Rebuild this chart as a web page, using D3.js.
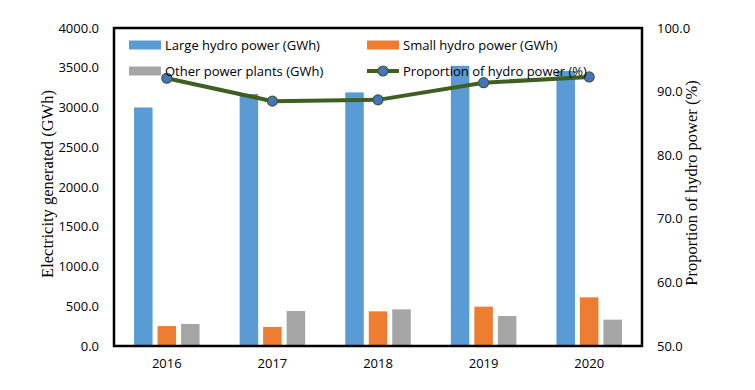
<!DOCTYPE html>
<html>
<head>
<meta charset="utf-8">
<script src="https://cdn.jsdelivr.net/npm/d3@7"></script>
<style>
  body { margin: 0; background: #fff; }
  svg text { font-family: "Open Sans", sans-serif; }
</style>
</head>
<body>
<script>
var years = ['2016', '2017', '2018', '2019', '2020'];
var largeHydro = [3000, 3170, 3190, 3525, 3460];
var smallHydro = [250, 240, 436, 495, 612];
var otherPlants = [277, 440, 461, 377, 331];
var hydroShare = [92.1, 88.5, 88.7, 91.4, 92.3];
var leftTicks = [0, 500, 1000, 1500, 2000, 2500, 3000, 3500, 4000];
var rightTicks = [50, 60, 70, 80, 90, 100];

var width = 755, height = 390;
var margin = {top: 28, right: 113, bottom: 44, left: 114};
var innerW = width - margin.left - margin.right;
var innerH = height - margin.top - margin.bottom;

var svg = d3.select('body')
    .append('svg')
    .attr('width', width)
    .attr('height', height);

var g = svg.append('g')
    .attr('transform', 'translate(' + margin.left + ',' + margin.top + ')');

var x = d3.scaleBand().domain(years).range([0, innerW]);
var y = d3.scaleLinear().domain([0, 4000]).range([innerH, 0]);
var y2 = d3.scaleLinear().domain([50, 100]).range([innerH, 0]);

var series = [
    {name: 'Large hydro power (GWh)', values: largeHydro, color: '#5B9BD5'},
    {name: 'Small hydro power (GWh)', values: smallHydro, color: '#ED7D31'},
    {name: 'Other power plants (GWh)', values: otherPlants, color: '#A5A5A5'}
];

var barW = 18.5, gap = 5;
var groupW = barW * 3 + gap * 2;

// bars
series.forEach(function (s, si) {
    g.selectAll('rect.s' + si)
        .data(s.values)
        .enter()
        .append('rect')
        .attr('class', 's' + si)
        .attr('x', function (d, i) {
            return x(years[i]) + x.bandwidth() / 2 - groupW / 2 + si * (barW + gap);
        })
        .attr('y', function (d) { return y(d); })
        .attr('width', barW)
        .attr('height', function (d) { return innerH - y(d); })
        .attr('fill', s.color);
});

// left axis
var leftAxis = g.append('g')
    .call(d3.axisLeft(y).tickValues(leftTicks).tickSize(0).tickPadding(15)
        .tickFormat(d3.format('.1f')));
leftAxis.select('.domain').remove();
leftAxis.selectAll('text').attr('font-size', 13).attr('fill', '#000');

// right axis
var rightAxis = g.append('g')
    .attr('transform', 'translate(' + innerW + ',0)')
    .call(d3.axisRight(y2).tickValues(rightTicks).tickSize(0).tickPadding(15)
        .tickFormat(d3.format('.1f')));
rightAxis.select('.domain').remove();
rightAxis.selectAll('text').attr('font-size', 13).attr('fill', '#000');

// bottom axis labels
var bottomAxis = g.append('g')
    .attr('transform', 'translate(0,' + innerH + ')')
    .call(d3.axisBottom(x).tickSize(0).tickPadding(13));
bottomAxis.select('.domain').remove();
bottomAxis.selectAll('text').attr('font-size', 13).attr('fill', '#000');

// frame
g.append('rect')
    .attr('x', 0).attr('y', 0)
    .attr('width', innerW).attr('height', innerH)
    .attr('fill', 'none')
    .attr('stroke', '#000')
    .attr('stroke-width', 2.5);

// line
var lineColor = '#3F5F22';
var line = d3.line()
    .x(function (d, i) { return x(years[i]) + x.bandwidth() / 2; })
    .y(function (d) { return y2(d); });

g.append('path')
    .datum(hydroShare)
    .attr('d', line)
    .attr('fill', 'none')
    .attr('stroke', lineColor)
    .attr('stroke-width', 4);

g.selectAll('circle.pt')
    .data(hydroShare)
    .enter()
    .append('circle')
    .attr('class', 'pt')
    .attr('cx', function (d, i) { return x(years[i]) + x.bandwidth() / 2; })
    .attr('cy', function (d) { return y2(d); })
    .attr('r', 5)
    .attr('fill', '#4472C4')
    .attr('stroke', lineColor)
    .attr('stroke-width', 1.2);

// legend
var legendItems = [
    {label: series[0].name, color: series[0].color, type: 'rect', lx: 129, ly: 45},
    {label: series[1].name, color: series[1].color, type: 'rect', lx: 367, ly: 45},
    {label: series[2].name, color: series[2].color, type: 'rect', lx: 129, ly: 71},
    {label: 'Proportion of hydro power (%)', color: lineColor, type: 'line', lx: 367, ly: 71}
];
var legend = svg.append('g');
legendItems.forEach(function (d) {
    if (d.type === 'rect') {
        legend.append('rect')
            .attr('x', d.lx).attr('y', d.ly - 4.5)
            .attr('width', 32).attr('height', 9)
            .attr('fill', d.color);
    } else {
        legend.append('line')
            .attr('x1', d.lx).attr('x2', d.lx + 32)
            .attr('y1', d.ly).attr('y2', d.ly)
            .attr('stroke', d.color).attr('stroke-width', 4);
        legend.append('circle')
            .attr('cx', d.lx + 16).attr('cy', d.ly).attr('r', 5)
            .attr('fill', '#4472C4')
            .attr('stroke', d.color).attr('stroke-width', 1.2);
    }
    legend.append('text')
        .attr('x', d.lx + 36).attr('y', d.ly)
        .attr('dy', '0.35em')
        .attr('font-size', 13)
        .text(d.label);
});

// axis titles
svg.append('text')
    .attr('transform', 'translate(53,184) rotate(-90)')
    .attr('text-anchor', 'middle')
    .style('font-family', '"Liberation Serif", serif')
    .attr('font-size', 16.5)
    .text('Electricity generated (GWh)');

svg.append('text')
    .attr('transform', 'translate(697,183) rotate(-90)')
    .attr('text-anchor', 'middle')
    .style('font-family', '"Liberation Serif", serif')
    .attr('font-size', 16.5)
    .text('Proportion of hydro power (%)');
</script>
</body>
</html>
